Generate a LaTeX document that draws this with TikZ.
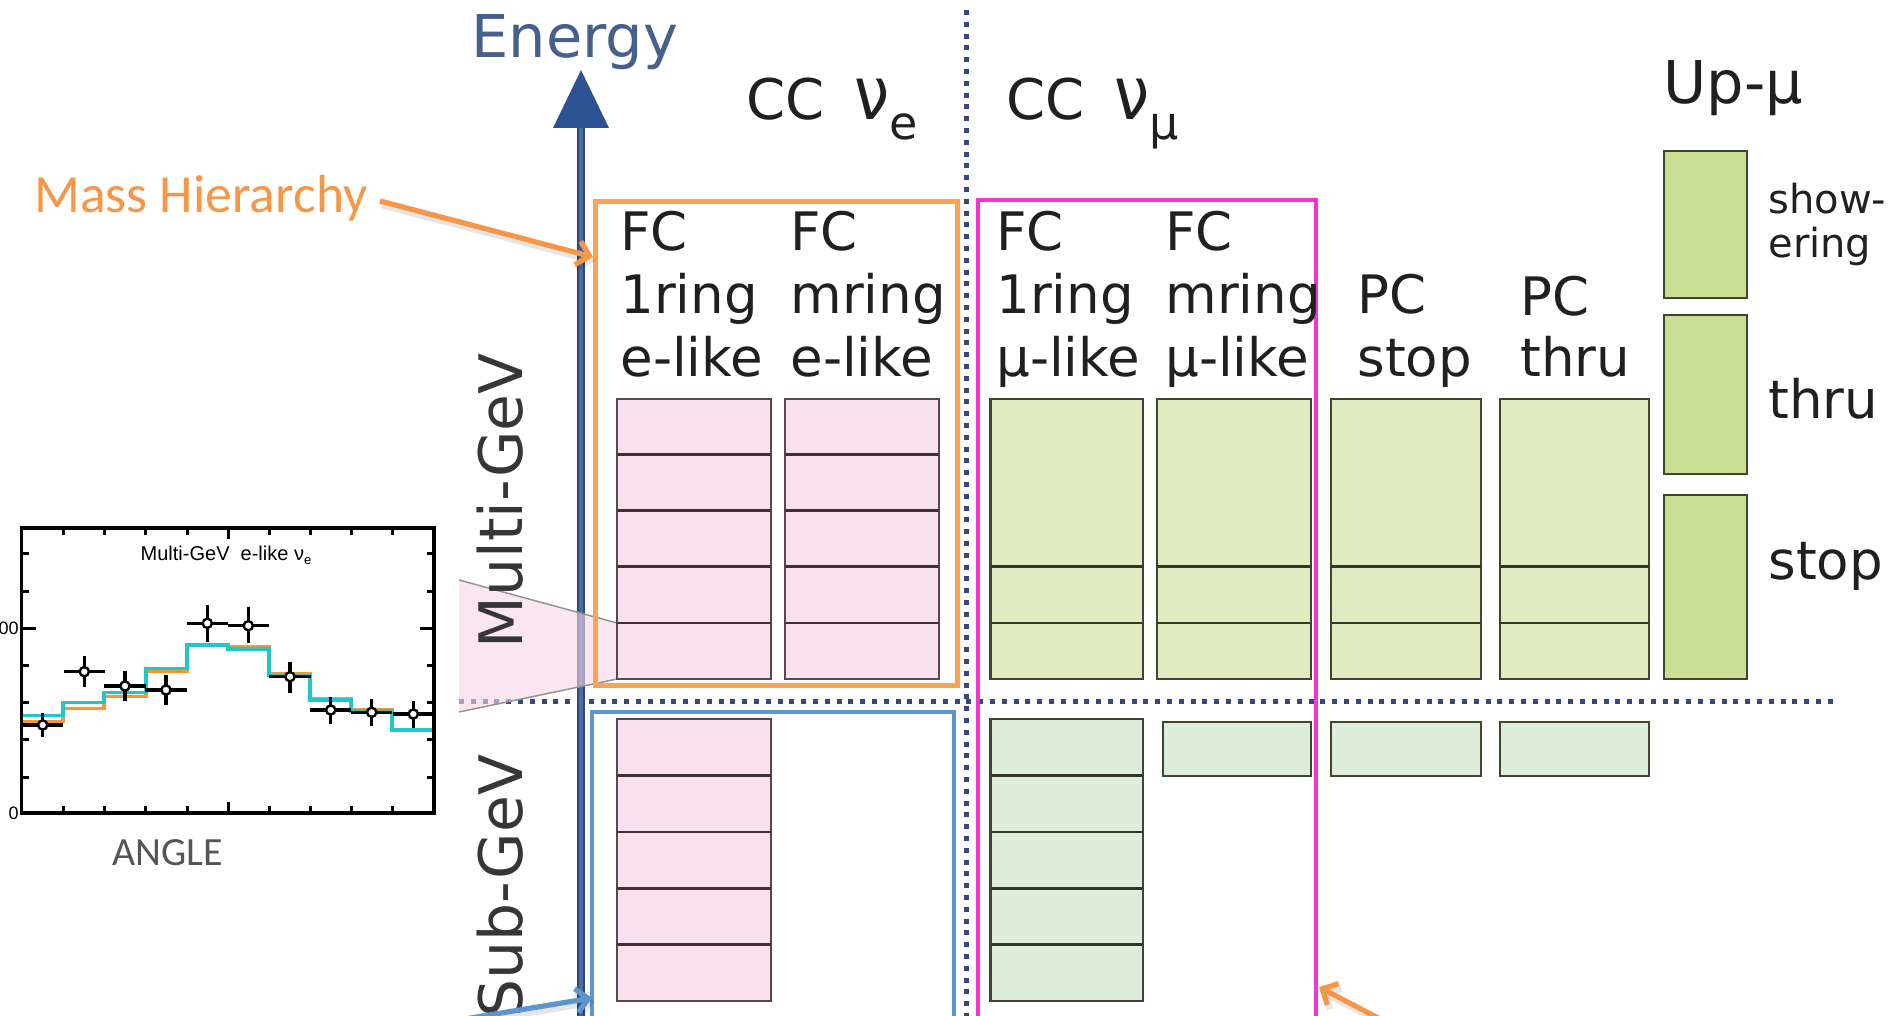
\documentclass[tikz,border=0pt]{standalone}
\usepackage{fontspec}
\setmainfont{DejaVu Sans}
\newfontfamily\carlito{Carlito}
\newfontfamily\arialf{Liberation Sans}
\usetikzlibrary{arrows.meta}
\definecolor{orangeA}{RGB}{247,150,70}
\definecolor{orangeB}{RGB}{250,163,80}
\definecolor{magB}{RGB}{246,52,208}
\definecolor{blueB}{RGB}{92,150,208}
\definecolor{axisC}{RGB}{76,108,162}
\definecolor{axisD}{RGB}{45,82,148}
\definecolor{axisE}{RGB}{48,72,122}
\definecolor{dotC}{RGB}{56,72,124}
\definecolor{pinkF}{RGB}{248,224,236}
\definecolor{pinkT}{RGB}{247,214,230}
\definecolor{pinkE}{RGB}{88,72,80}
\definecolor{greenF}{RGB}{225,234,193}
\definecolor{greenS}{RGB}{223,238,219}
\definecolor{greenU}{RGB}{200,222,146}
\definecolor{greenE}{RGB}{62,70,48}
\definecolor{energyC}{RGB}{70,96,142}
\definecolor{textC}{RGB}{32,32,32}
\definecolor{cyanH}{RGB}{30,200,200}
\definecolor{orangeH}{RGB}{247,150,50}
\definecolor{angleC}{RGB}{85,85,85}
\tikzset{
  labtext/.style={font=\fontsize{26.5pt}{31pt}\selectfont, text=textC, anchor=base west, inner sep=0pt},
  headtext/.style={font=\fontsize{28pt}{34pt}\selectfont, text=textC, anchor=base west, inner sep=0pt},
  smalltext/.style={font=\fontsize{20pt}{24pt}\selectfont, text=textC, anchor=base west, inner sep=0pt},
  rottext/.style={font=\fontsize{30pt}{36pt}\selectfont, text=textC!90!white, inner sep=0pt, rotate=90},
  pinkbox/.style={fill=pinkF, draw=pinkE, line width=1.1pt},
  pinkdiv/.style={draw=pinkE!70!black, line width=1.3pt},
  greenbox/.style={fill=greenF, draw=greenE, line width=1.1pt},
  subgreen/.style={fill=greenS, draw=greenE, line width=1.1pt},
  upgreen/.style={fill=greenU, draw=greenE, line width=1.1pt},
  greendiv/.style={draw=greenE!80!black, line width=1.3pt},
  dotline/.style={draw=dotC, line width=2.5pt, dash pattern=on 2.5pt off 3.4pt},
  frameO/.style={draw=orangeB, line width=2.5pt},
  frameM/.style={draw=magB, line width=2.1pt},
  frameB/.style={draw=blueB, line width=2.3pt},
  arrowO/.style={draw=orangeA, line width=2.6pt, -{Straight Barb[length=6pt,width=12pt,line width=2.6pt]}},
  arrowB/.style={draw=blueB, line width=2.6pt, -{Straight Barb[length=6pt,width=12pt,line width=2.6pt]}},
  arrowS/.style={draw=black, opacity=0.1, line width=3.4pt, -{Straight Barb[length=6pt,width=12pt,line width=3.4pt]}},
  plotframe/.style={draw=black, line width=1.7pt},
  tickline/.style={draw=black, line width=1.5pt},
  errbar/.style={draw=black, line width=1.6pt},
  datapt/.style={fill=white, draw=black, line width=1.2pt},
}
\newcommand{\bignu}{\scalebox{1.12}[1.32]{ν}}
\begin{document}
\begin{tikzpicture}[x=0.5pt,y=-0.5pt]
\useasboundingbox (0,0) rectangle (1894,1016);
\clip (0,0) rectangle (1894,1016);

% dotted separators
\draw[dotline] (966,10) -- (966,1016);
\draw[dotline] (459,701) -- (1834,701);

% energy axis
\draw[line width=4.4pt, draw=axisE] (581,1030) -- (581,122);
\draw[line width=2.4pt, draw=axisC] (581,1030) -- (581,122);
\fill[axisD] (553,128) -- (609,128) -- (581,70) -- cycle;
\node[font=\fontsize{29.5pt}{34pt}\selectfont, text=energyC, anchor=base west, inner sep=0pt] (energy) at (471,58) {Energy};

% projection wedge from the plot
\coordinate (wA) at (459,580);
\coordinate (wB) at (617,623);
\coordinate (wC) at (617,679);
\coordinate (wD) at (459,712);
\fill[pinkT, opacity=0.6] (wA) -- (wB) -- (wC) -- (wD) -- cycle;
\draw[gray!85, line width=0.75pt] (wA) -- (wB);
\draw[gray!85, line width=0.75pt] (wD) -- (wC);

% Multi-GeV pink boxes
\draw[pinkbox] (617,398.6) rectangle (771,678.8);
\draw[pinkbox] (785,398.6) rectangle (939,678.8);
\foreach \yy in {454.6,510.7,566.7,622.8}{
  \draw[pinkdiv] (617,\yy) -- (771,\yy);
  \draw[pinkdiv] (785,\yy) -- (939,\yy);
}
% Multi-GeV green boxes
\foreach \xa/\xb in {990.5/1142.7, 1157/1310.6, 1331/1481, 1500/1649}{
  \draw[greenbox] (\xa,398.6) rectangle (\xb,678.8);
  \draw[greendiv] (\xa,566.7) -- (\xb,566.7);
  \draw[greendiv] (\xa,622.8) -- (\xb,622.8);
}
% Up-mu boxes
\draw[upgreen] (1664,151) rectangle (1747,298);
\draw[upgreen] (1664,315) rectangle (1747,474);
\draw[upgreen] (1664,495) rectangle (1747,679);

% Sub-GeV boxes
\draw[pinkbox] (617,719) rectangle (771,1001);
\draw[subgreen] (990.5,719) rectangle (1142.7,1001);
\foreach \yy in {775.4,831.8,888.2,944.6}{
  \draw[pinkdiv] (617,\yy) -- (771,\yy);
  \draw[greendiv] (990.5,\yy) -- (1142.7,\yy);
}
\draw[subgreen] (1163,722) rectangle (1311,776);
\draw[subgreen] (1331,722) rectangle (1481,776);
\draw[subgreen] (1500,722) rectangle (1649,776);

% coloured frames
\draw[frameO] (595,202) rectangle (957,685);
\draw[frameM] (978,200) rectangle (1316,1040);
\draw[frameB] (592,712) rectangle (954,1040);

% column headings
\node[headtext] (ccnue) at (746,120) {CC\hspace{15pt}\bignu\hspace{0pt}\raisebox{-10pt}{\fontsize{23pt}{24pt}\selectfont e}};
\node[headtext] (ccnumu) at (1006,120) {CC\hspace{15pt}\bignu\hspace{0pt}\raisebox{-10pt}{\fontsize{23pt}{24pt}\selectfont μ}};
\node[headtext, font=\fontsize{29.5pt}{34pt}\selectfont] (upmu) at (1663,104) {Up-μ};

% category labels
\node[labtext] (a1) at (620,250) {FC};
\node[labtext] (a2) at (620,313) {1ring};
\node[labtext] (a3) at (620,376) {e-like};
\node[labtext] (b1) at (790,250) {FC};
\node[labtext] (b2) at (790,313) {mring};
\node[labtext] (b3) at (790,376) {e-like};
\node[labtext] (c1) at (996,250) {FC};
\node[labtext] (c2) at (996,313) {1ring};
\node[labtext] (c3) at (996,376) {μ-like};
\node[labtext] (d1) at (1165,250) {FC};
\node[labtext] (d2) at (1165,313) {mring};
\node[labtext] (d3) at (1165,376) {μ-like};
\node[labtext] (e1) at (1357,313) {PC};
\node[labtext] (e2) at (1357,376) {stop};
\node[labtext] (f1) at (1520,315) {PC};
\node[labtext] (f2) at (1520,376) {thru};
\node[smalltext] (g1) at (1768,214) {show-};
\node[smalltext] (g2) at (1768,257) {ering};
\node[labtext] (g3) at (1768,418) {thru};
\node[labtext] (g4) at (1768,579) {stop};

% energy range labels
\node[rottext] (multigev) at (500,501) {Multi-GeV};
\node[rottext] (subgev) at (500,886) {Sub-GeV};

% Mass hierarchy label and arrow
\node[font=\carlito\fontsize{26.8pt}{30pt}\selectfont, text=orangeA, anchor=base west, inner sep=0pt] (mh) at (34,213) {Mass Hierarchy};
\coordinate (mhs) at (380,201);
\coordinate (mht) at (593,257);
\draw[arrowS] ([shift={(2,4)}]mhs) -- ([shift={(2,4)}]mht);
\draw[arrowO] (mhs) -- (mht);

% bottom arrows
\coordinate (bas) at (380,1033);
\coordinate (bat) at (592,998);
\draw[arrowS] ([shift={(2,4)}]bas) -- ([shift={(2,4)}]bat);
\draw[arrowB] (bas) -- (bat);
\coordinate (oas) at (1420,1040);
\coordinate (oat) at (1319,987);
\draw[arrowS] ([shift={(2,4)}]oas) -- ([shift={(2,4)}]oat);
\draw[arrowO] (oas) -- (oat);

% ---------- inset plot ----------
% histograms
\draw[orangeH, line width=1.65pt] (21.7,721.7) -- (63,721.7) -- (63,708.3) -- (104,708.3) -- (104,696.7) -- (146,696.7) -- (146,671.7) -- (187,671.7) -- (187,645) -- (228,645) -- (228,646.7) -- (269,646.7) -- (269,674) -- (310,674) -- (310,698.7) -- (351,698.7) -- (351,710) -- (392,710) -- (392,729.3) -- (434,729.3);
\draw[cyanH, line width=1.65pt] (21.7,715.7) -- (63,715.7) -- (63,702.7) -- (104,702.7) -- (104,692.7) -- (146,692.7) -- (146,668.3) -- (187,668.3) -- (187,645) -- (228,645) -- (228,649) -- (269,649) -- (269,675.7) -- (310,675.7) -- (310,700) -- (351,700) -- (351,711) -- (392,711) -- (392,730) -- (434,730);
% data points
\foreach \xc/\yc/\ylo/\yhi [count=\i] in {42.7/725/713/737, 84.3/671.7/655.7/687, 125/686/670.7/701, 166/690/675/705, 207.3/623.3/605/641.7, 248.3/625.7/606.7/643.3, 290/676.7/661.7/692.7, 330.7/710/696.7/724, 371.7/712.3/699/726, 413.3/714/701/727.7}{
  \pgfmathsetmacro{\xl}{max(21.7,\xc-20.6)}
  \pgfmathsetmacro{\xr}{min(434,\xc+20.6)}
  \draw[errbar] (\xl,\yc) -- (\xr,\yc);
  \draw[errbar] (\xc,\ylo) -- (\xc,\yhi);
  \fill[datapt] (\xc,\yc) circle[radius=2.3pt];
}
% frame and ticks
\draw[plotframe] (21.7,528) rectangle (434,813);
\foreach \xt in {63,104,145,187,269,310,351,392}{
  \draw[tickline] (\xt,813) -- (\xt,806);
  \draw[tickline] (\xt,528) -- (\xt,535);
}
\draw[tickline] (228,813) -- (228,802);
\draw[tickline] (228,528) -- (228,539);
\foreach \yt in {553,591,665,702,739,777}{
  \draw[tickline] (21.7,\yt) -- (29,\yt);
  \draw[tickline] (434,\yt) -- (427,\yt);
}
\draw[tickline] (21.7,628) -- (36,628);
\draw[tickline] (434,628) -- (420,628);
\node[font=\arialf\fontsize{10pt}{12pt}\selectfont, anchor=base, inner sep=0pt] (ptitle) at (226,560) {Multi-GeV\ \ e-like ν\raisebox{-2.2pt}{\fontsize{6.5pt}{7pt}\selectfont e}};
\node[font=\arialf\fontsize{9pt}{10pt}\selectfont, anchor=east, inner sep=0pt] (yl100) at (19,628) {00};
\node[font=\arialf\fontsize{9pt}{10pt}\selectfont, anchor=east, inner sep=0pt] (yl0) at (19,813) {0};
\node[font=\carlito\fontsize{20pt}{24pt}\selectfont, text=angleC, anchor=base west, inner sep=0pt] (angle) at (112,865) {ANGLE};
\end{tikzpicture}
\end{document}
